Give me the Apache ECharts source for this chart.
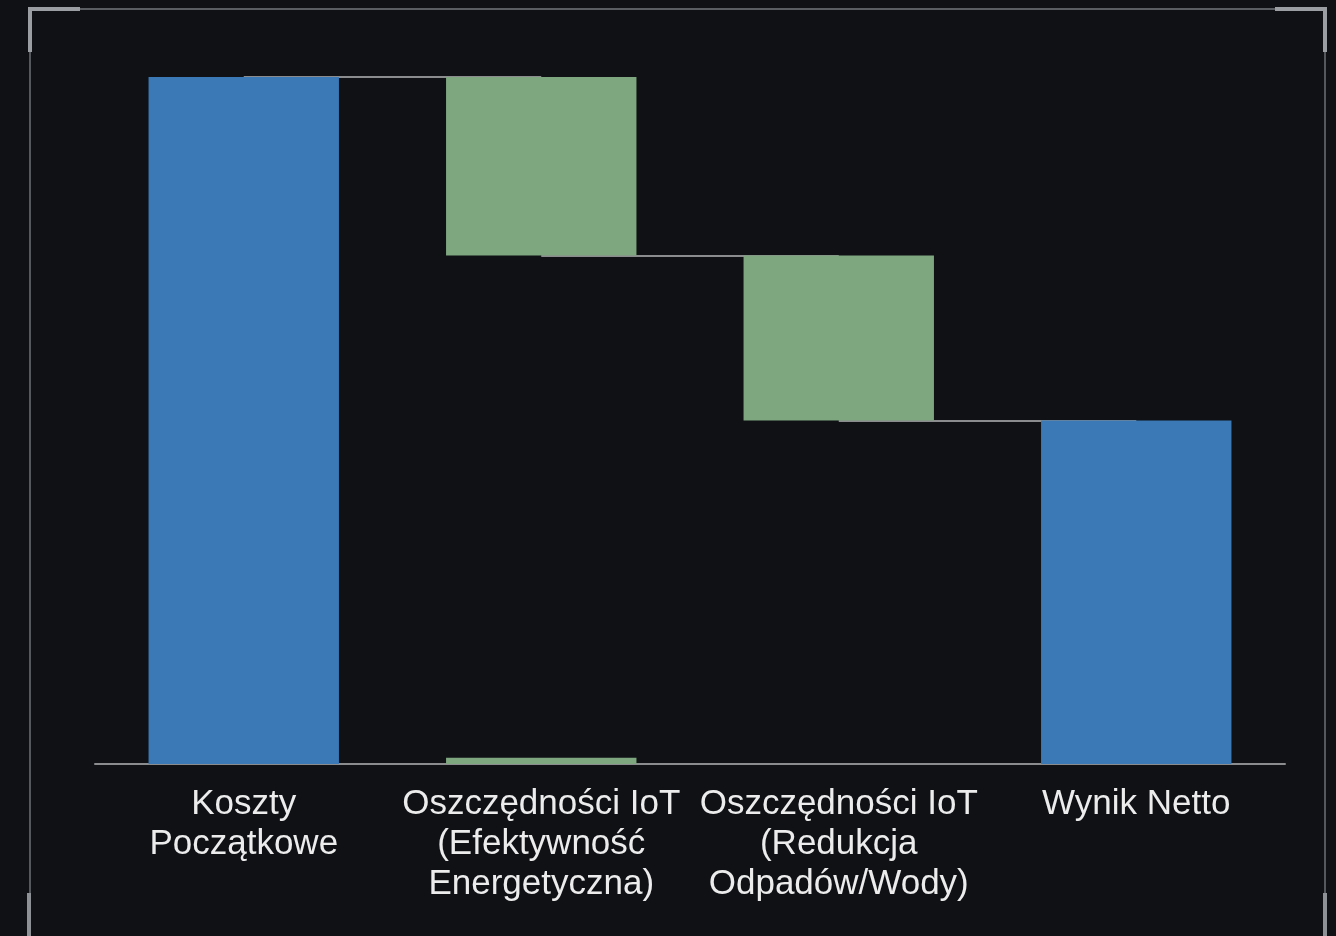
<!DOCTYPE html>
<html>
<head>
<meta charset="utf-8">
<script src="https://cdn.jsdelivr.net/npm/echarts@6/dist/echarts.min.js"></script>
<style>
html, body { margin: 0; padding: 0; background: #0f1115; }
#main { width: 1336px; height: 936px; }
</style>
</head>
<body>
<div id="main"></div>
<script>
var dom = document.getElementById("main");
var myChart = echarts.init(dom);

// kategorie (etykiety osi X)
var categories = [
    'Koszty\nPoczątkowe',
    'Oszczędności IoT\n(Efektywność\nEnergetyczna)',
    'Oszczędności IoT\n(Redukcja\nOdpadów/Wody)',
    'Wynik Netto'
];
// wartości: sumy (total) i zmiany (delta)
var values = [100, -26, -24, 50];
var kinds = ['total', 'delta', 'delta', 'total'];
// mały pasek przy osi w drugiej kategorii
var sliver = [0, 0.9, 0, 0];

// podstawa (niewidoczna) i widoczne słupki waterfall
var base = [], totals = [], savings = [], levels = [];
var running = 0;
for (var i = 0; i < values.length; i++) {
    if (kinds[i] === 'total') {
        running = values[i];
        base.push(0);
        totals.push(values[i]);
        savings.push('-');
    } else {
        var next = running + values[i];
        base.push(Math.min(running, next));
        totals.push('-');
        savings.push(Math.abs(values[i]));
        running = next;
    }
    levels.push(running);
}

// linie łączące kolejne słupki
var connectors = [];
for (var j = 0; j < levels.length - 1; j++) {
    connectors.push([{ coord: [j, levels[j]] }, { coord: [j + 1, levels[j]] }]);
}

var font = "'Liberation Sans Narrow', 'Arial Narrow', 'Liberation Sans', sans-serif";

option = {
    backgroundColor: '#0f1115',
    animation: false,
    grid: {
        left: 95,
        right: 51,
        top: 77,
        bottom: 172
    },
    xAxis: {
        type: 'category',
        data: categories,
        axisLine: { lineStyle: { color: '#8a8c8e', width: 2 } },
        axisTick: { show: false },
        axisLabel: {
            interval: 0,
            margin: 20,
            color: '#ececec',
            fontFamily: font,
            fontSize: 35,
            lineHeight: 40
        }
    },
    yAxis: {
        type: 'value',
        min: 0,
        max: 100,
        show: false,
        splitLine: { show: false }
    },
    graphic: [
        // ramka
        { type: 'line', shape: { x1: 80, y1: 9, x2: 1275, y2: 9 }, style: { stroke: '#5a5d61', lineWidth: 2 } },
        { type: 'line', shape: { x1: 30, y1: 9, x2: 30, y2: 936 }, style: { stroke: '#55585c', lineWidth: 2 } },
        { type: 'line', shape: { x1: 1325, y1: 9, x2: 1325, y2: 936 }, style: { stroke: '#55585c', lineWidth: 2 } },
        { type: 'polyline', shape: { points: [[30, 52], [30, 9], [80, 9]] }, style: { stroke: '#9b9fa3', lineWidth: 4, fill: null } },
        { type: 'polyline', shape: { points: [[1275, 9], [1325, 9], [1325, 52]] }, style: { stroke: '#9b9fa3', lineWidth: 4, fill: null } },
        { type: 'line', shape: { x1: 29, y1: 893, x2: 29, y2: 936 }, style: { stroke: '#8e9195', lineWidth: 4 } },
        { type: 'line', shape: { x1: 1325, y1: 893, x2: 1325, y2: 936 }, style: { stroke: '#8e9195', lineWidth: 4 } }
    ],
    series: [{
        type: 'bar',
        stack: 'waterfall',
        silent: true,
        itemStyle: { color: 'transparent' },
        data: base,
        markLine: {
            silent: true,
            symbol: 'none',
            z: 1,
            label: { show: false },
            lineStyle: { color: '#8a8c8e', width: 2, type: 'solid' },
            data: connectors
        }
    }, {
        type: 'bar',
        name: 'Suma',
        stack: 'waterfall',
        z: 10,
        barWidth: '64%',
        itemStyle: { color: '#3b79b6' },
        data: totals
    }, {
        type: 'bar',
        name: 'Oszczędności',
        stack: 'waterfall',
        z: 10,
        barWidth: '64%',
        itemStyle: { color: '#7ea67f' },
        data: savings
    }, {
        type: 'bar',
        name: 'Reszta',
        z: 10,
        barWidth: '64%',
        barGap: '-100%',
        itemStyle: { color: '#7ea67f' },
        data: sliver
    }]
};

if (option && typeof option === "object") {
    myChart.setOption(option, true);
}
</script>
</body>
</html>
